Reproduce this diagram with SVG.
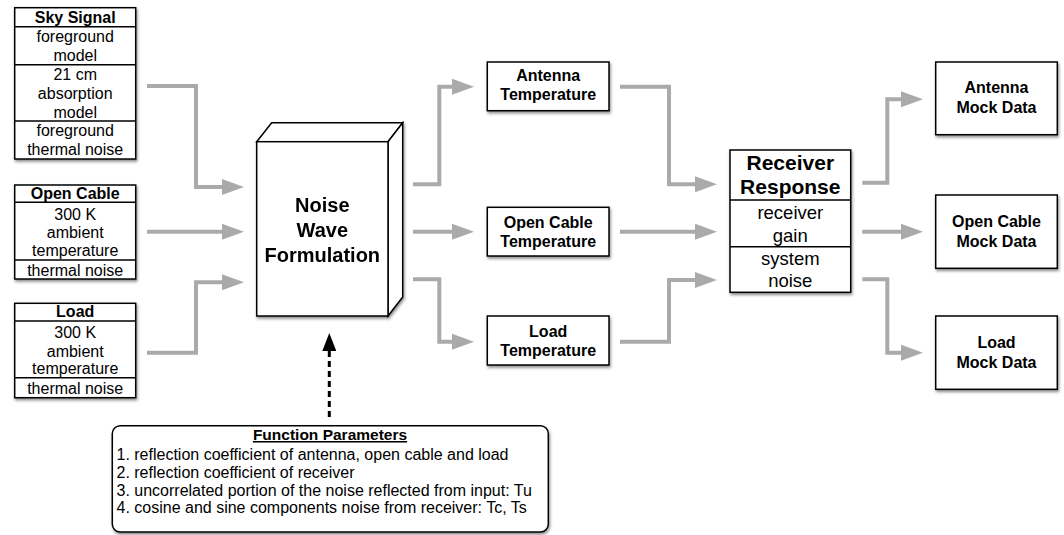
<svg xmlns="http://www.w3.org/2000/svg" width="1064" height="535" viewBox="0 0 1064 535">
  <style>
    .box { fill: #fff; stroke: #000; stroke-width: 1.5; }
    .sep { stroke: #000; stroke-width: 1.5; fill: none; }
    .t { font-family: "Liberation Sans", Arial, sans-serif; font-size: 16px; text-anchor: middle; fill: #000; }
    .b { font-weight: bold; }
    .conn { fill: none; stroke: #aaaaaa; stroke-width: 4; stroke-linejoin: miter; }
    .dash { fill: none; stroke: #000; stroke-width: 3; stroke-dasharray: 6 4; }
  </style>
  <defs>
    <filter id="shadow" x="-10%" y="-10%" width="125%" height="125%">
      <feDropShadow dx="1" dy="2" stdDeviation="1.5" flood-color="#000" flood-opacity="0.45"/>
    </filter>
    <marker id="grayArrow" markerUnits="userSpaceOnUse" markerWidth="22" markerHeight="18" refX="0" refY="9" orient="auto">
      <path d="M0,1 L22,9 L0,17 z" fill="#aaaaaa"/>
    </marker>
    <marker id="blackArrow" markerUnits="userSpaceOnUse" markerWidth="18" markerHeight="14" refX="0" refY="7" orient="auto">
      <path d="M0,0 L18,7 L0,14 z" fill="#000"/>
    </marker>
  </defs>

  <rect width="1064" height="535" fill="#fff"/>

  <!-- connectors -->
  <g id="connectors">
    <path class="conn" d="M147,86 H196 V187 H222" marker-end="url(#grayArrow)"/>
    <path class="conn" d="M147,231.7 H222" marker-end="url(#grayArrow)"/>
    <path class="conn" d="M147,352.7 H196 V282.3 H222" marker-end="url(#grayArrow)"/>

    <path class="conn" d="M413,184.3 H439.3 V86.7 H452" marker-end="url(#grayArrow)"/>
    <path class="conn" d="M413,231.7 H452" marker-end="url(#grayArrow)"/>
    <path class="conn" d="M413,279.3 H439.3 V341.7 H452" marker-end="url(#grayArrow)"/>

    <path class="conn" d="M620,86.7 H669 V184.3 H695" marker-end="url(#grayArrow)"/>
    <path class="conn" d="M620,231.7 H695" marker-end="url(#grayArrow)"/>
    <path class="conn" d="M620,341.7 H669 V280 H695" marker-end="url(#grayArrow)"/>

    <path class="conn" d="M862.3,182.7 H887.3 V99.3 H901" marker-end="url(#grayArrow)"/>
    <path class="conn" d="M862.3,231.7 H901" marker-end="url(#grayArrow)"/>
    <path class="conn" d="M862.3,279.3 H887.3 V352.7 H901" marker-end="url(#grayArrow)"/>

    <path class="dash" d="M329.3,417 V351" marker-end="url(#blackArrow)"/>
  </g>

  <!-- input sources -->
  <g id="sky-signal">
    <rect class="box" x="14.7" y="7.7" width="121" height="151.3" filter="url(#shadow)"/>
    <path class="sep" d="M14.7,26.7 H135.7 M14.7,64.7 H135.7 M14.7,121 H135.7"/>
    <text class="t b" x="75.2" y="22.5">Sky Signal</text>
    <text class="t" x="75.2" y="41.7">foreground</text>
    <text class="t" x="75.2" y="60.7">model</text>
    <text class="t" x="75.2" y="80">21 cm</text>
    <text class="t" x="75.2" y="99">absorption</text>
    <text class="t" x="75.2" y="117.5">model</text>
    <text class="t" x="75.2" y="136">foreground</text>
    <text class="t" x="75.2" y="155">thermal noise</text>
  </g>

  <g id="open-cable">
    <rect class="box" x="14.7" y="185" width="121" height="94" filter="url(#shadow)"/>
    <path class="sep" d="M14.7,202.3 H135.7 M14.7,260 H135.7"/>
    <text class="t b" x="75.2" y="199.3">Open Cable</text>
    <text class="t" x="75.2" y="220">300 K</text>
    <text class="t" x="75.2" y="238.3">ambient</text>
    <text class="t" x="75.2" y="256">temperature</text>
    <text class="t" x="75.2" y="275.5">thermal noise</text>
  </g>

  <g id="load">
    <rect class="box" x="14.7" y="303.3" width="121" height="94.4" filter="url(#shadow)"/>
    <path class="sep" d="M14.7,321 H135.7 M14.7,377.7 H135.7"/>
    <text class="t b" x="75.2" y="317.3">Load</text>
    <text class="t" x="75.2" y="338.3">300 K</text>
    <text class="t" x="75.2" y="356.7">ambient</text>
    <text class="t" x="75.2" y="374.3">temperature</text>
    <text class="t" x="75.2" y="394">thermal noise</text>
  </g>

  <!-- 3D block -->
  <g id="noise-wave-formulation" filter="url(#shadow)">
    <path class="box" d="M256.7,141.7 L271.7,122.7 H402.7 L388,141.7 z"/>
    <path class="box" d="M388,141.7 L402.7,122.7 V297 L388,316 z"/>
    <rect class="box" x="256.7" y="141.7" width="131.3" height="174.3"/>
    <text class="t b" x="322.3" y="212" style="font-size:20px">Noise</text>
    <text class="t b" x="322.3" y="237" style="font-size:20px">Wave</text>
    <text class="t b" x="322.3" y="262" style="font-size:20px">Formulation</text>
  </g>

  <!-- temperature outputs -->
  <g id="antenna-temperature">
    <rect class="box" x="487.3" y="62" width="121.7" height="48.7" filter="url(#shadow)"/>
    <text class="t b" x="548.2" y="81">Antenna</text>
    <text class="t b" x="548.2" y="100">Temperature</text>
  </g>
  <g id="open-cable-temperature">
    <rect class="box" x="487.3" y="207.3" width="121.7" height="48.7" filter="url(#shadow)"/>
    <text class="t b" x="548.2" y="227.7">Open Cable</text>
    <text class="t b" x="548.2" y="246.7">Temperature</text>
  </g>
  <g id="load-temperature">
    <rect class="box" x="487.3" y="316" width="121.7" height="49" filter="url(#shadow)"/>
    <text class="t b" x="548.2" y="336.7">Load</text>
    <text class="t b" x="548.2" y="355.7">Temperature</text>
  </g>

  <!-- receiver -->
  <g id="receiver-response">
    <rect class="box" x="730" y="150" width="120.7" height="142.3" filter="url(#shadow)"/>
    <path class="sep" d="M730,200 H850.7 M730,246.7 H850.7"/>
    <text class="t b" x="790.3" y="170" style="font-size:21px">Receiver</text>
    <text class="t b" x="790.3" y="194.3" style="font-size:21px">Response</text>
    <text class="t" x="790.3" y="219.3" style="font-size:18.5px">receiver</text>
    <text class="t" x="790.3" y="241.7" style="font-size:18.5px">gain</text>
    <text class="t" x="790.3" y="265" style="font-size:18.5px">system</text>
    <text class="t" x="790.3" y="287.3" style="font-size:18.5px">noise</text>
  </g>

  <!-- mock data outputs -->
  <g id="antenna-mock-data">
    <rect class="box" x="935.7" y="62" width="121.6" height="72.7" filter="url(#shadow)"/>
    <text class="t b" x="996.5" y="93.3">Antenna</text>
    <text class="t b" x="996.5" y="112.7">Mock Data</text>
  </g>
  <g id="open-cable-mock-data">
    <rect class="box" x="935.7" y="195" width="121.6" height="73.3" filter="url(#shadow)"/>
    <text class="t b" x="996.5" y="227.3">Open Cable</text>
    <text class="t b" x="996.5" y="246.7">Mock Data</text>
  </g>
  <g id="load-mock-data">
    <rect class="box" x="935.7" y="316" width="121.6" height="73.3" filter="url(#shadow)"/>
    <text class="t b" x="996.5" y="348.3">Load</text>
    <text class="t b" x="996.5" y="367.7">Mock Data</text>
  </g>

  <!-- parameters -->
  <g id="function-parameters">
    <rect class="box" x="112.3" y="425.7" width="436" height="106.3" rx="8" ry="8" filter="url(#shadow)"/>
    <text class="t b" x="330" y="440" style="font-size:15.5px;text-decoration:underline">Function Parameters</text>
    <g class="t" style="text-anchor:start">
      <text x="116.5" y="460">1. reflection coefficient of antenna, open cable and load</text>
      <text x="116.5" y="477.5">2. reflection coefficient of receiver</text>
      <text x="116.5" y="495.5">3. uncorrelated portion of the noise reflected from input: Tu</text>
      <text x="116.5" y="513.3">4. cosine and sine components noise from receiver: Tc, Ts</text>
    </g>
  </g>
</svg>
